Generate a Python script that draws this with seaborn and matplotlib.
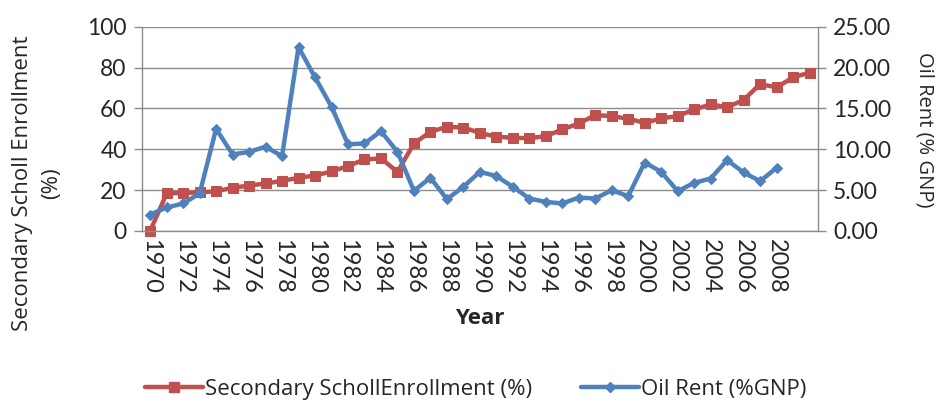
import numpy as np
import pandas as pd
import matplotlib
matplotlib.use("Agg")
import matplotlib.pyplot as plt
import seaborn as sns
from matplotlib.lines import Line2D
from matplotlib.ticker import FormatStrFormatter

# data
years = list(range(1970, 2011))
enrollment = [0.0, 18.3, 18.6, 18.8, 19.4, 21.1, 22.2, 23.2, 24.5, 26.0,
              27.1, 29.1, 31.7, 35.0, 35.5, 28.9, 42.8, 48.5, 51.0, 50.6,
              48.0, 46.1, 45.6, 45.4, 46.4, 49.7, 52.6, 56.7, 56.2, 54.9,
              52.9, 55.1, 56.2, 59.5, 61.9, 60.6, 64.1, 71.9, 70.3, 75.2,
              77.5]
oil_rent = [2.0, 2.86, 3.35, 4.58, 12.5, 9.35, 9.68, 10.3, 9.15, 22.5,
            18.8, 15.2, 10.6, 10.7, 12.2, 9.68, 4.9, 6.5, 3.88, 5.4,
            7.23, 6.7, 5.4, 3.96, 3.55, 3.35, 4.08, 3.96, 4.98, 4.25,
            8.37, 7.23, 4.86, 5.88, 6.41, 8.66, 7.15, 6.09, 7.72]
tick_years = list(range(1970, 2009, 2))

red = '#C0504D'
blue = '#4F81BD'
grey = '#8C8C8C'
title_font = ['Open Sans', 'DejaVu Sans']

sns.set_theme(style="white")
plt.rcParams['font.family'] = ['Lato', 'DejaVu Sans']

df_enr = pd.DataFrame({'pos': range(len(enrollment)), 'value': enrollment})
df_oil = pd.DataFrame({'pos': range(len(oil_rent)), 'value': oil_rent})

fig = plt.figure(figsize=(9.4, 4.05), dpi=100)
ax = fig.add_axes([0.151, 0.430, 0.719, 0.504])
ax2 = ax.twinx()

sns.lineplot(data=df_enr, x='pos', y='value', ax=ax, color=red, linewidth=3.2,
             marker='s', markersize=7.5, markeredgecolor=red, clip_on=False)
sns.lineplot(data=df_oil, x='pos', y='value', ax=ax2, color=blue, linewidth=3.2,
             marker='D', markersize=5.5, markeredgecolor=blue, clip_on=False)

# x axis: categories centred between tick marks
ax.set_xlim(-0.5, len(years) - 0.5)
ax.set_xticks([years.index(y) for y in tick_years])
ax.set_xticklabels([str(y) for y in tick_years], rotation=270, fontsize=17)
ax.set_xticks(np.arange(0.5, len(years) - 1, 1), minor=True)
ax.tick_params(axis='x', which='major', length=0, pad=6)
ax.tick_params(axis='x', which='minor', direction='in', length=5, color=grey, width=1)
ax.set_xlabel("Year", fontsize=16, fontweight='bold', labelpad=10, family=title_font)

ax.set_ylim(0, 100)
ax.set_yticks(range(0, 101, 20))
ax.tick_params(axis='y', which='major', direction='out', length=6, color=grey,
               width=1, labelsize=16.5, pad=5, left=True)
ax.grid(axis='y', color=grey, linewidth=1)
ax.set_ylabel("")

ax2.set_ylim(0, 25)
ax2.set_yticks(range(0, 26, 5))
ax2.yaxis.set_major_formatter(FormatStrFormatter('%.2f'))
ax2.tick_params(axis='y', direction='out', length=6, color=grey, width=1,
                labelsize=16.5, pad=5, right=True)
ax2.set_ylabel("")
ax2.grid(False)
ax2.set_xlabel("")

# axis titles placed like the original
fig.text(37 / 940, 1 - 183 / 405, "Secondary Scholl Enrollment\n(%)", rotation=90,
         ha='center', va='center', multialignment='center', fontsize=16,
         linespacing=1.5, family=title_font)
fig.text(924 / 940, 1 - 130 / 405, "Oil Rent (% GNP)", rotation=270,
         ha='center', va='center', fontsize=14.5, family=title_font)

for a in (ax, ax2):
    a.spines['top'].set_visible(False)
    for s in ('left', 'bottom', 'right'):
        a.spines[s].set_color(grey)
        a.spines[s].set_linewidth(1)
ax.spines['right'].set_visible(False)
ax2.spines['left'].set_visible(False)
ax2.spines['bottom'].set_visible(False)

handles = [
    Line2D([], [], color=red, linewidth=3.2, marker='s', markersize=7.5),
    Line2D([], [], color=blue, linewidth=3.2, marker='D', markersize=5.5),
]
fig.legend(handles, ["Secondary SchollEnrollment (%)", "Oil Rent (%GNP)"],
           loc='center', bbox_to_anchor=(476 / 940, 1 - 389 / 405), ncol=2, frameon=False,
           prop={'family': title_font, 'size': 16}, handlelength=2.6,
           handletextpad=0.1, columnspacing=2.2)

fig.savefig("out.png", dpi=100)
